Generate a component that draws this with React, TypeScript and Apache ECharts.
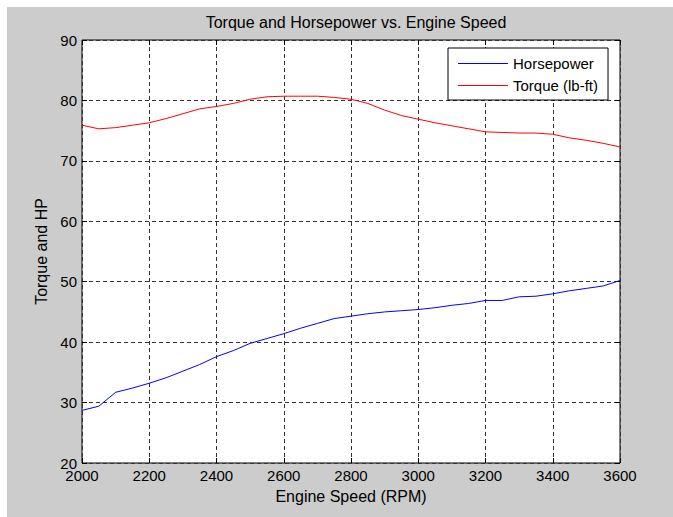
import React, { useEffect, useRef } from "react";
import * as echarts from "echarts";

const rpm = [2000, 2050, 2100, 2150, 2200, 2250, 2300, 2350, 2400, 2450, 2500, 2550, 2600, 2650, 2700, 2750, 2800, 2850, 2900, 2950, 3000, 3050, 3100, 3150, 3200, 3250, 3300, 3350, 3400, 3450, 3500, 3550, 3600];
const horsepower = [28.7, 29.4, 31.7, 32.4, 33.2, 34.1, 35.2, 36.3, 37.6, 38.6, 39.8, 40.6, 41.4, 42.3, 43.1, 43.9, 44.3, 44.7, 45.0, 45.2, 45.4, 45.7, 46.1, 46.4, 46.9, 46.9, 47.5, 47.6, 48.0, 48.5, 48.9, 49.3, 50.2];
const torque = [75.9, 75.3, 75.5, 75.9, 76.3, 77.0, 77.8, 78.6, 79.0, 79.5, 80.2, 80.6, 80.7, 80.7, 80.7, 80.5, 80.2, 79.5, 78.4, 77.5, 76.9, 76.3, 75.8, 75.3, 74.8, 74.7, 74.6, 74.6, 74.4, 73.8, 73.4, 72.9, 72.3];
const seriesNames = ["Horsepower", "Torque (lb-ft)"];
const seriesColors = ["#0000ff", "#ff0000"];
const titleText = "Torque and Horsepower vs. Engine Speed";
const xName = "Engine Speed (RPM)";
const yName = "Torque and HP";

const FONT = "Liberation Sans, Arial, Helvetica, sans-serif";
const LEGEND_LINE = "path://M0,0 L0.01,0 L0.01,0.001 Z M0,8 L50,8 L50,9 L0,9 Z M0,17 L0.01,17 L0.01,17.001 Z";

export default function App() {
  const ref = useRef<HTMLDivElement>(null);
  useEffect(() => {
    if (!ref.current) return;
    const chart = echarts.init(ref.current, null, { renderer: "svg" });
    const gridLine = { show: true, lineStyle: { color: "#333", width: 1, type: [4, 3] as any } };
    const tick = { show: true, inside: true, length: 5, lineStyle: { color: "#000", width: 1 } };
    const label = { color: "#000", fontSize: 15, fontFamily: FONT };
    chart.setOption({
      animation: false,
      backgroundColor: "#cccccc",
      color: seriesColors,
      textStyle: { fontFamily: FONT },
      title: {
        text: titleText,
        left: 344,
        textAlign: "center",
        top: 2,
        textStyle: { fontSize: 16, fontWeight: "normal", color: "#000", fontFamily: FONT },
      },
      legend: {
        data: seriesNames.map((n, i) => ({
          name: n,
          icon: LEGEND_LINE,
          itemStyle: { color: seriesColors[i], borderWidth: 0 },
        })),
        orient: "vertical",
        left: 441,
        top: 41,
        padding: [7, 10, 6, 10],
        itemGap: 5,
        itemWidth: 50,
        itemHeight: 17,
        itemStyle: { borderWidth: 0 },
        lineStyle: { width: 0 },
        backgroundColor: "#fff",
        borderColor: "#000",
        borderWidth: 1,
        borderRadius: 0,
        textStyle: { fontSize: 15, color: "#000", fontFamily: FONT },
      },
      grid: {
        left: 75,
        top: 33,
        right: 53,
        bottom: 54,
        show: true,
        backgroundColor: "#fff",
        borderColor: "#000",
        borderWidth: 1,
      },
      xAxis: [
        {
          type: "value",
          min: 2000,
          max: 3600,
          interval: 200,
          name: xName,
          nameLocation: "middle",
          nameGap: 25,
          nameTextStyle: { fontSize: 16, color: "#000", fontFamily: FONT },
          axisLine: { show: false },
          axisTick: tick,
          axisLabel: { ...label, margin: 5, formatter: (v: number) => String(v) },
          splitLine: gridLine,
        },
        {
          type: "value",
          position: "top",
          min: 2000,
          max: 3600,
          interval: 200,
          axisLine: { show: false },
          axisTick: tick,
          axisLabel: { show: false },
          splitLine: { show: false },
        },
      ],
      yAxis: [
        {
          type: "value",
          min: 20,
          max: 90,
          interval: 10,
          name: yName,
          nameLocation: "middle",
          nameGap: 31,
          nameTextStyle: { fontSize: 16, color: "#000", fontFamily: FONT },
          axisLine: { show: false },
          axisTick: tick,
          axisLabel: { ...label, margin: 5 },
          splitLine: gridLine,
        },
        {
          type: "value",
          position: "right",
          min: 20,
          max: 90,
          interval: 10,
          axisLine: { show: false },
          axisTick: tick,
          axisLabel: { show: false },
          splitLine: { show: false },
        },
      ],
      series: [
        {
          name: seriesNames[0],
          type: "line",
          data: rpm.map((r, i) => [r, horsepower[i]]),
          symbol: "none",
          lineStyle: { color: seriesColors[0], width: 1 },
          itemStyle: { color: seriesColors[0] },
          z: 5,
        },
        {
          name: seriesNames[1],
          type: "line",
          data: rpm.map((r, i) => [r, torque[i]]),
          symbol: "none",
          lineStyle: { color: seriesColors[1], width: 1 },
          itemStyle: { color: seriesColors[1] },
          z: 5,
        },
      ],
    });
    return () => chart.dispose();
  }, []);
  return (
    <div style={{ position: "fixed", left: 0, top: 0, width: 673, height: 517, background: "#fff" }}>
      <div ref={ref} style={{ position: "absolute", left: 7, top: 7, width: 666, height: 510 }} />
    </div>
  );
}
